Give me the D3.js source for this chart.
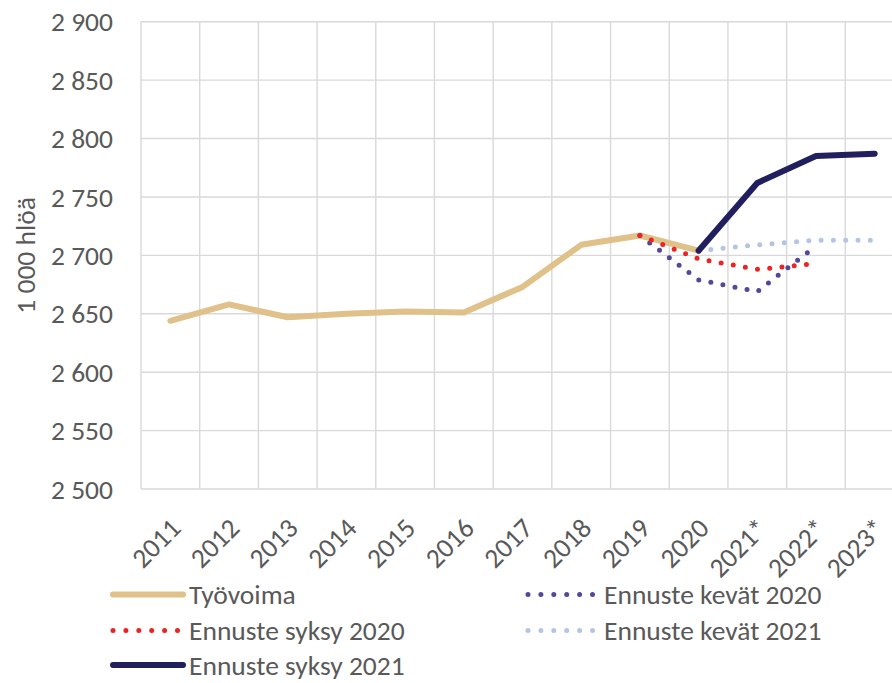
<!DOCTYPE html>
<html>
<head>
<meta charset="utf-8">
<script src="https://cdn.jsdelivr.net/npm/d3@7"></script>
<style>
  body { margin: 0; background: #fff; }
  text { font-family: Carlito, Calibri, "Open Sans", sans-serif; fill: #595959; }
</style>
</head>
<body>
<div id="vis"></div>
<script>
const years = ['2011','2012','2013','2014','2015','2016','2017','2018','2019','2020','2021*','2022*','2023*'];
const yTicks = [2500, 2550, 2600, 2650, 2700, 2750, 2800, 2850, 2900];

// values in 1 000 persons, null = no value
const tyovoima      = [2644, 2658, 2647, 2650, 2652, 2651, 2673, 2709, 2717, 2704, null, null, null];
const kevat2020     = [null, null, null, null, null, null, null, null, 2717, 2679, 2669, 2708, null];
const syksy2020     = [null, null, null, null, null, null, null, null, 2717, 2697, 2688, 2693, null];
const kevat2021     = [null, null, null, null, null, null, null, null, null, 2704, 2709, 2713, 2713];
const syksy2021     = [null, null, null, null, null, null, null, null, null, 2704, 2762, 2785, 2787];

const seriesNames = ['Työvoima', 'Ennuste kevät 2020', 'Ennuste syksy 2020', 'Ennuste kevät 2021', 'Ennuste syksy 2021'];
const seriesValues = [tyovoima, kevat2020, syksy2020, kevat2021, syksy2021];
const colors = ['#dfc189', '#54479b', '#ec2323', '#b4c4e6', '#211f5e'];
const dotted = [false, true, true, true, false];

const W = 892, H = 683;
const plot = {left: 141, right: 904, top: 21.7, bottom: 489};
const fontSize = '27.5px';

const svg = d3.select('#vis')
    .append('svg')
    .attr('width', W)
    .attr('height', H);

const x = d3.scaleBand()
    .domain(years)
    .range([plot.left, plot.right]);

const y = d3.scaleLinear()
    .domain([2500, 2900])
    .range([plot.bottom, plot.top]);

// grid
const fmt = v => d3.format(',')(v).replace(',', ' ');

svg.append('g')
    .selectAll('line')
    .data(yTicks)
    .join('line')
    .attr('x1', plot.left).attr('x2', plot.right)
    .attr('y1', d => y(d)).attr('y2', d => y(d))
    .attr('stroke', '#d9d9d9')
    .attr('stroke-width', 1.4);

svg.append('g')
    .selectAll('line')
    .data(years)
    .join('line')
    .attr('x1', d => x(d)).attr('x2', d => x(d))
    .attr('y1', plot.top).attr('y2', plot.bottom)
    .attr('stroke', '#d9d9d9')
    .attr('stroke-width', 1.4);

// y axis labels
svg.append('g')
    .selectAll('text')
    .data(yTicks)
    .join('text')
    .attr('x', 113)
    .attr('y', d => y(d))
    .attr('dy', '0.35em')
    .attr('text-anchor', 'end')
    .style('font-size', fontSize)
    .text(d => fmt(d));

svg.append('text')
    .attr('transform', `translate(25,${(plot.top + plot.bottom) / 2}) rotate(-90)`)
    .attr('text-anchor', 'middle')
    .attr('dy', '0.35em')
    .style('font-size', fontSize)
    .text('1 000 hlöä');

// x axis labels
svg.append('g')
    .selectAll('text')
    .data(years)
    .join('text')
    .attr('transform', d => `translate(${x(d) + x.bandwidth() / 2 + 12},530) rotate(-45)`)
    .attr('text-anchor', 'end')
    .style('font-size', fontSize)
    .text(d => d);

// lines
const line = d3.line()
    .defined(d => d != null)
    .x((d, i) => x(years[i]) + x.bandwidth() / 2)
    .y(d => y(d));

const order = [0, 1, 2, 3, 4];
svg.append('g')
    .selectAll('path')
    .data(order)
    .join('path')
    .attr('d', i => line(seriesValues[i]))
    .attr('fill', 'none')
    .attr('stroke', i => colors[i])
    .attr('stroke-width', i => dotted[i] ? 5 : 6)
    .attr('stroke-linecap', 'round')
    .attr('stroke-linejoin', 'round')
    .attr('stroke-dasharray', i => dotted[i] ? '0 12.3' : null);

// legend
const legendPos = [
    {x: 113, y: 594.5},
    {x: 528, y: 594.5},
    {x: 113, y: 630.5},
    {x: 528, y: 630.5},
    {x: 113, y: 665}
];

const leg = svg.append('g')
    .selectAll('g')
    .data(order)
    .join('g')
    .attr('transform', i => `translate(${legendPos[i].x},${legendPos[i].y})`);

leg.append('line')
    .attr('x1', 0).attr('x2', i => dotted[i] ? 64.5 : 70)
    .attr('y1', 0).attr('y2', 0)
    .attr('stroke', i => colors[i])
    .attr('stroke-width', i => dotted[i] ? 5 : 6)
    .attr('stroke-linecap', 'round')
    .attr('stroke-dasharray', i => dotted[i] ? '0 12.9' : null);

leg.append('text')
    .attr('x', 76)
    .attr('y', 0)
    .attr('dy', '0.35em')
    .style('font-size', fontSize)
    .text(i => seriesNames[i]);
</script>
</body>
</html>
